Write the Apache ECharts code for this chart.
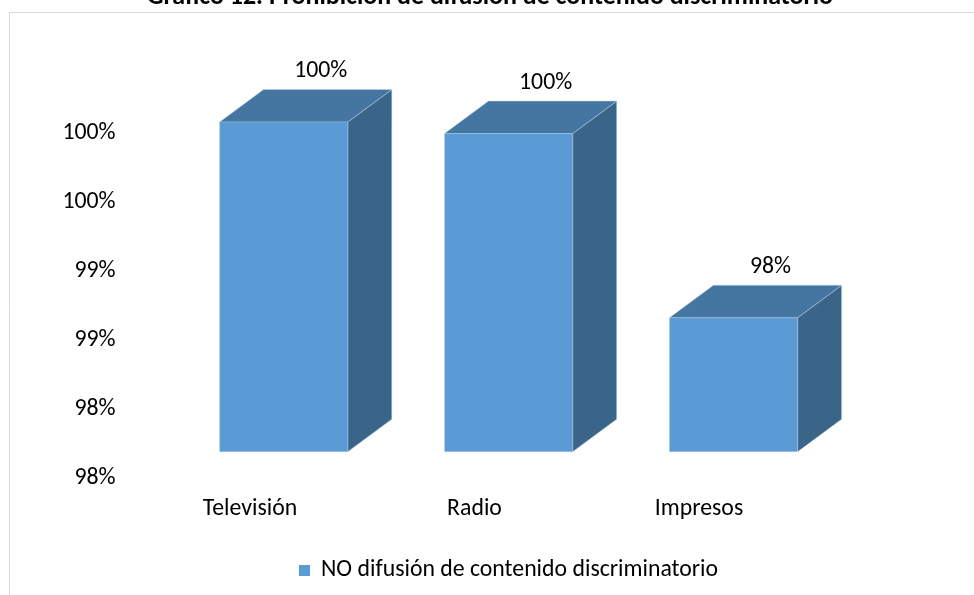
<!DOCTYPE html>
<html>
<head>
<meta charset="utf-8">
<script src="https://cdn.jsdelivr.net/npm/echarts@6/dist/echarts.min.js"></script>
<style>html,body{margin:0;padding:0;background:#fff}#c{width:974px;height:595px}</style>
</head>
<body>
<div id="c"></div>
<script>
// ---- data ----
const titleText = 'Gráfico 12. Prohibición de difusión de contenido discriminatorio';
const seriesName = 'NO difusión de contenido discriminatorio';
const categories = ['Televisión', 'Radio', 'Impresos'];
const values = [100, 99.91, 98.48];
const yAxisMin = 97.5, yAxisMax = 100, yAxisStep = 0.5;
const barFloor = 97.44;

// ---- fonts ----
const FAM = 'Carlito, Lato, sans-serif';
const mctx = document.createElement('canvas').getContext('2d');
function fit(text, target, weight) {
  mctx.font = (weight || 'normal') + ' 100px ' + FAM;
  return 100 * target / mctx.measureText(text).width;
}
const fs = fit('Televisión', 94.5);
const tfs = fit(titleText, 686, 'bold');
const pct = v => Math.round(v) + '%';

const DX = 44, DY = -32.5;
function renderItem(params, api) {
  const i = api.value(0), v = api.value(1);
  const p = api.coord([i, v]);
  const b = api.coord([i, barFloor]);
  const w = api.size([1, 0])[0] * 0.57;
  const x0 = p[0] - w / 2, x1 = p[0] + w / 2, y0 = p[1], y1 = b[1];
  const edge = 'rgba(190,215,240,0.45)';
  return {
    type: 'group',
    children: [
      { type: 'polygon', shape: { points: [[x1, y0], [x1 + DX, y0 + DY], [x1 + DX, y1 + DY], [x1, y1]] },
        style: { fill: '#3A6589', stroke: edge, lineWidth: 1 } },
      { type: 'polygon', shape: { points: [[x0, y0], [x1, y0], [x1 + DX, y0 + DY], [x0 + DX, y0 + DY]] },
        style: { fill: '#4575A1', stroke: edge, lineWidth: 1 } },
      { type: 'rect', shape: { x: x0, y: y0, width: w, height: y1 - y0 },
        style: { fill: '#5B9BD5', stroke: 'rgba(190,215,240,0.3)', lineWidth: 1 } },
      { type: 'text', x: p[0] + 37, y: y0 - 51,
        style: { text: pct(v), fontSize: fs, fontFamily: FAM, fill: '#000', align: 'center', verticalAlign: 'middle' } }
    ]
  };
}

const chart = echarts.init(document.getElementById('c'), null, { renderer: 'canvas' });
chart.setOption({
  animation: false,
  backgroundColor: '#fff',
  graphic: [
    { type: 'rect', silent: true, z: -10, shape: { x: 9.5, y: 12.5, width: 1000, height: 1000 },
      style: { fill: 'none', stroke: '#D9D9D9', lineWidth: 1 } },
    { type: 'text', silent: true, x: 490, y: 8 - 0.39 * tfs,
      style: { text: titleText, fontSize: tfs, fontWeight: 'bold', fontFamily: FAM, fill: '#000', align: 'center', verticalAlign: 'middle' } }
  ],
  legend: {
    data: [seriesName], selectedMode: false, icon: 'rect', itemWidth: 11, itemHeight: 11,
    left: 294, top: 553.5,
    textStyle: { fontSize: fs, fontFamily: FAM, color: '#000', lineHeight: 24, padding: [0, 0, 0, 6] }
  },
  grid: [
    { left: 137.75, width: 673.5, top: 132.7, height: 345, outerBoundsMode: 'none' },
    { left: 171.25, width: 674.7, top: 122, height: 329.7, outerBoundsMode: 'none' }
  ],
  xAxis: [
    { gridIndex: 0, type: 'category', data: categories, axisLine: { show: false }, axisTick: { show: false },
      splitLine: { show: false },
      axisLabel: { margin: 19, fontSize: fs, lineHeight: fs, fontFamily: FAM, color: '#000' } },
    { gridIndex: 1, type: 'category', data: categories, show: false }
  ],
  yAxis: [
    { gridIndex: 0, type: 'value', min: yAxisMin, max: yAxisMax, interval: yAxisStep,
      axisLine: { show: false }, axisTick: { show: false }, splitLine: { show: false },
      axisLabel: { margin: 22.25, formatter: pct, fontSize: fs, fontFamily: FAM, color: '#000' } },
    { gridIndex: 1, type: 'value', min: barFloor, max: yAxisMax, show: false, splitLine: { show: false } }
  ],
  series: [{
    type: 'custom', name: seriesName, xAxisIndex: 1, yAxisIndex: 1,
    itemStyle: { color: '#5B9BD5' },
    data: categories.map((c, i) => [i, values[i]]),
    renderItem: renderItem
  }]
});
</script>
</body>
</html>
